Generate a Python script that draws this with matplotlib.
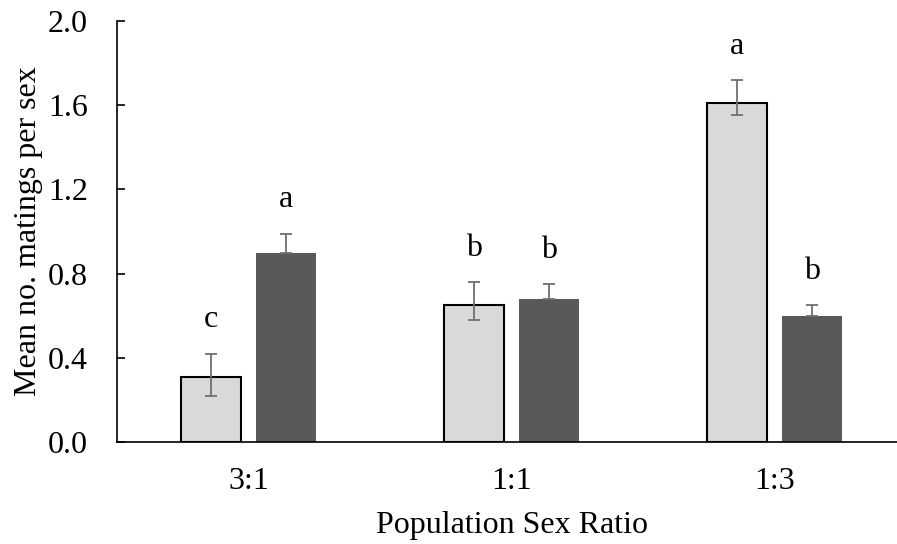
import matplotlib.pyplot as plt
import numpy as np

plt.rcParams['font.family'] = ['Liberation Serif', 'DejaVu Serif']

# --- Data ---
ratios = ['3:1', '1:1', '1:3']

light_means = [0.31, 0.65, 1.61]
light_err_low = [0.09, 0.07, 0.055]
light_err_high = [0.11, 0.11, 0.11]
light_letters = ['c', 'b', 'a']

dark_means = [0.90, 0.68, 0.60]
dark_err_high = [0.09, 0.07, 0.05]
dark_letters = ['a', 'b', 'b']

y_ticks = [0.0, 0.4, 0.8, 1.2, 1.6, 2.0]

FS = 23

# --- Plot ---
fig = plt.figure(figsize=(8.97, 5.44), dpi=100)
ax = fig.add_axes([117 / 897, 102 / 544, 789 / 897, 421 / 544])

x = np.arange(len(ratios))
width = 0.228
offset = 0.1426

err_style = dict(ecolor='#707070', elinewidth=1.3, capsize=4.5, capthick=1.3)

ax.bar(x - offset, light_means, width, color='#d9d9d9', edgecolor='black',
       linewidth=1.5, yerr=[light_err_low, light_err_high], error_kw=err_style,
       zorder=2)
ax.bar(x + offset, dark_means, width, color='#595959', edgecolor='none',
       yerr=[np.zeros(len(dark_means)), dark_err_high], error_kw=err_style,
       zorder=2)

# significance letters above the error bars
for i in range(len(ratios)):
    ax.annotate(light_letters[i], (x[i] - offset, light_means[i] + light_err_high[i]),
                xytext=(0, 19), textcoords='offset points', ha='center',
                va='baseline', fontsize=FS)
    ax.annotate(dark_letters[i], (x[i] + offset, dark_means[i] + dark_err_high[i]),
                xytext=(0, 19), textcoords='offset points', ha='center',
                va='baseline', fontsize=FS)

ax.set_xlim(-0.5, 2.5)
ax.set_ylim(0, 2.0)
ax.set_xticks(x)
ax.set_xticklabels(ratios)
ax.set_yticks(y_ticks)
ax.set_yticklabels([f'{t:.1f}' for t in y_ticks])

ax.tick_params(axis='y', direction='in', length=6, width=1.2, labelsize=FS, pad=21)
ax.tick_params(axis='x', length=0, labelsize=FS, pad=18)

for side in ['top', 'right']:
    ax.spines[side].set_visible(False)
ax.spines['left'].set_linewidth(1.2)
ax.spines['bottom'].set_linewidth(1.2)

ax.set_xlabel('Population Sex Ratio', fontsize=FS, labelpad=11)
ax.set_ylabel('Mean no. matings per sex', fontsize=FS)
ax.yaxis.set_label_coords(-74 / 789, 0.5)

fig.savefig('out.png', dpi=100)
